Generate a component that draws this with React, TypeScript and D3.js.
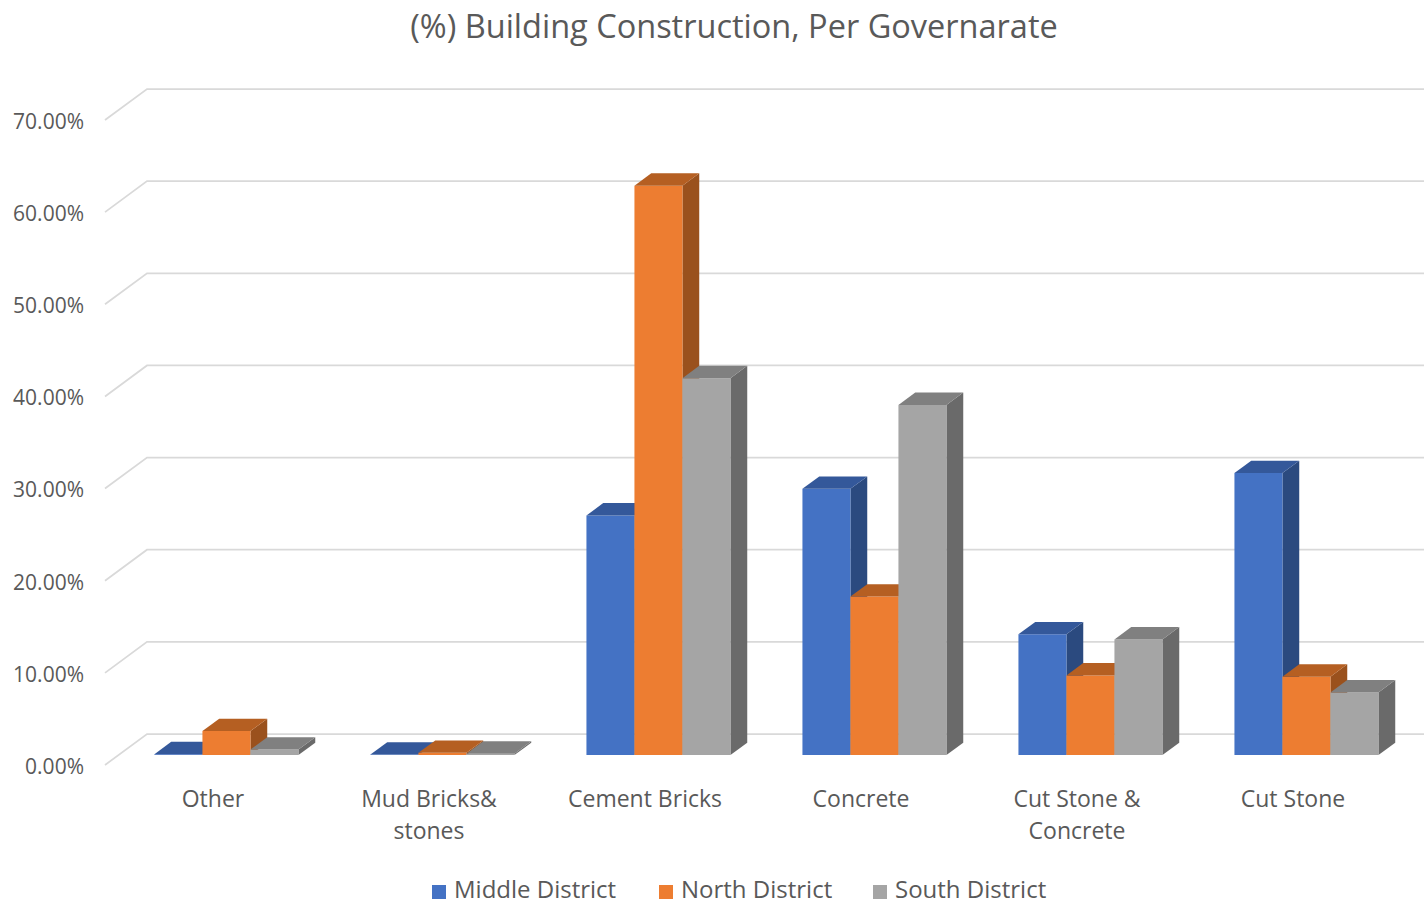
import React from "react";
import * as d3 from "d3";

const categories = ["Other", "Mud Bricks& stones", "Cement Bricks", "Concrete", "Cut Stone & Concrete", "Cut Stone"];
const categoryLines = [["Other"], ["Mud Bricks&", "stones"], ["Cement Bricks"], ["Concrete"], ["Cut Stone &", "Concrete"], ["Cut Stone"]];
const seriesNames = ["Middle District", "North District", "South District"];
const middleDistrict = [0.1, 0.05, 26.0, 28.9, 13.1, 30.6];
const northDistrict = [2.6, 0.25, 61.8, 17.2, 8.65, 8.5];
const southDistrict = [0.6, 0.15, 40.9, 38.0, 12.55, 6.8];
const yTicks = [0, 10, 20, 30, 40, 50, 60, 70];
const title = "(%) Building Construction, Per Governarate";

const seriesValues = [middleDistrict, northDistrict, southDistrict];
const frontColors = ["#4472C4", "#ED7D31", "#A5A5A5"];
const topColors = ["#34589A", "#B55F22", "#808080"];
const sideColors = ["#2B4A7F", "#9A511D", "#6A6A6A"];

const W = 1424;
const H = 905;
const FONT = "'Open Sans', Lato, sans-serif";
const TEXT = "#595959";

// pseudo-3D projection
const DX = 42; // depth shift in x for full depth
const DY = 31; // depth shift in y for full depth
const Y0 = 765; // front floor y
const Z0 = 0.32; // bar front depth
const Z1 = 0.72; // bar back depth

export default function App() {
  const x0 = d3.scaleBand<string>().domain(categories).range([105, 105 + 6 * 216]).paddingInner(1 / 3).paddingOuter(1 / 6);
  const x1 = d3.scaleBand<string>().domain(seriesNames).range([0, x0.bandwidth()]).padding(0);
  const h = d3.scaleLinear().domain([0, 70]).range([0, 645]);

  const proj = (x: number, v: number, z: number): [number, number] => [x + z * DX, Y0 - z * DY - h(v)];
  const poly = (pts: [number, number][]) => pts.map((p) => p.join(",")).join(" ");

  const bars: React.ReactNode[] = [];
  categories.forEach((c, i) => {
    seriesNames.forEach((s, j) => {
      const v = seriesValues[j][i];
      const L = (x0(c) as number) + (x1(s) as number);
      const R = L + x1.bandwidth();
      const front = [proj(L, 0, Z0), proj(R, 0, Z0), proj(R, v, Z0), proj(L, v, Z0)] as [number, number][];
      const top = [proj(L, v, Z0), proj(R, v, Z0), proj(R, v, Z1), proj(L, v, Z1)] as [number, number][];
      const side = [proj(R, 0, Z0), proj(R, 0, Z1), proj(R, v, Z1), proj(R, v, Z0)] as [number, number][];
      bars.push(
        <g key={c + s}>
          <polygon points={poly(side)} fill={sideColors[j]} />
          <polygon points={poly(front)} fill={frontColors[j]} />
          <polygon points={poly(top)} fill={topColors[j]} />
        </g>
      );
    });
  });

  const xEndFront = 105 + 6 * 216;
  return (
    <div style={{ position: "absolute", left: 0, top: 0 }}>
      <svg width={W} height={H} style={{ display: "block", background: "#fff" }}>
        <text x={734} y={38} textAnchor="middle" fontFamily={FONT} fontSize={32.5} fill={TEXT}>
          {title}
        </text>
        {yTicks.map((t) => {
          const a = proj(105, t, 0);
          const b = proj(105, t, 1);
          const e = proj(xEndFront, t, 1);
          return (
            <g key={t}>
              <polyline points={poly([a, b, e])} fill="none" stroke="#D9D9D9" strokeWidth={1.75} />
              <text x={84} y={a[1] + 1.5} dy="0.35em" textAnchor="end" fontFamily={FONT} fontSize={21} fill={TEXT}>
                {t.toFixed(2) + "%"}
              </text>
            </g>
          );
        })}
        {bars}
        {categories.map((c, i) => {
          const cx = (x0(c) as number) + x0.bandwidth() / 2;
          return (
            <text key={c} x={cx} y={807} textAnchor="middle" fontFamily={FONT} fontSize={23} fill={TEXT}>
              {categoryLines[i].map((ln, k) => (
                <tspan key={k} x={cx} dy={k === 0 ? 0 : 32}>
                  {ln}
                </tspan>
              ))}
            </text>
          );
        })}
        {seriesNames.map((s, j) => {
          const lx = [432, 659, 873][j];
          return (
            <g key={s}>
              <rect x={lx} y={885} width={14} height={14} fill={frontColors[j]} />
              <text x={lx + 22} y={898} fontFamily={FONT} fontSize={24} fill={TEXT}>
                {s}
              </text>
            </g>
          );
        })}
      </svg>
    </div>
  );
}
